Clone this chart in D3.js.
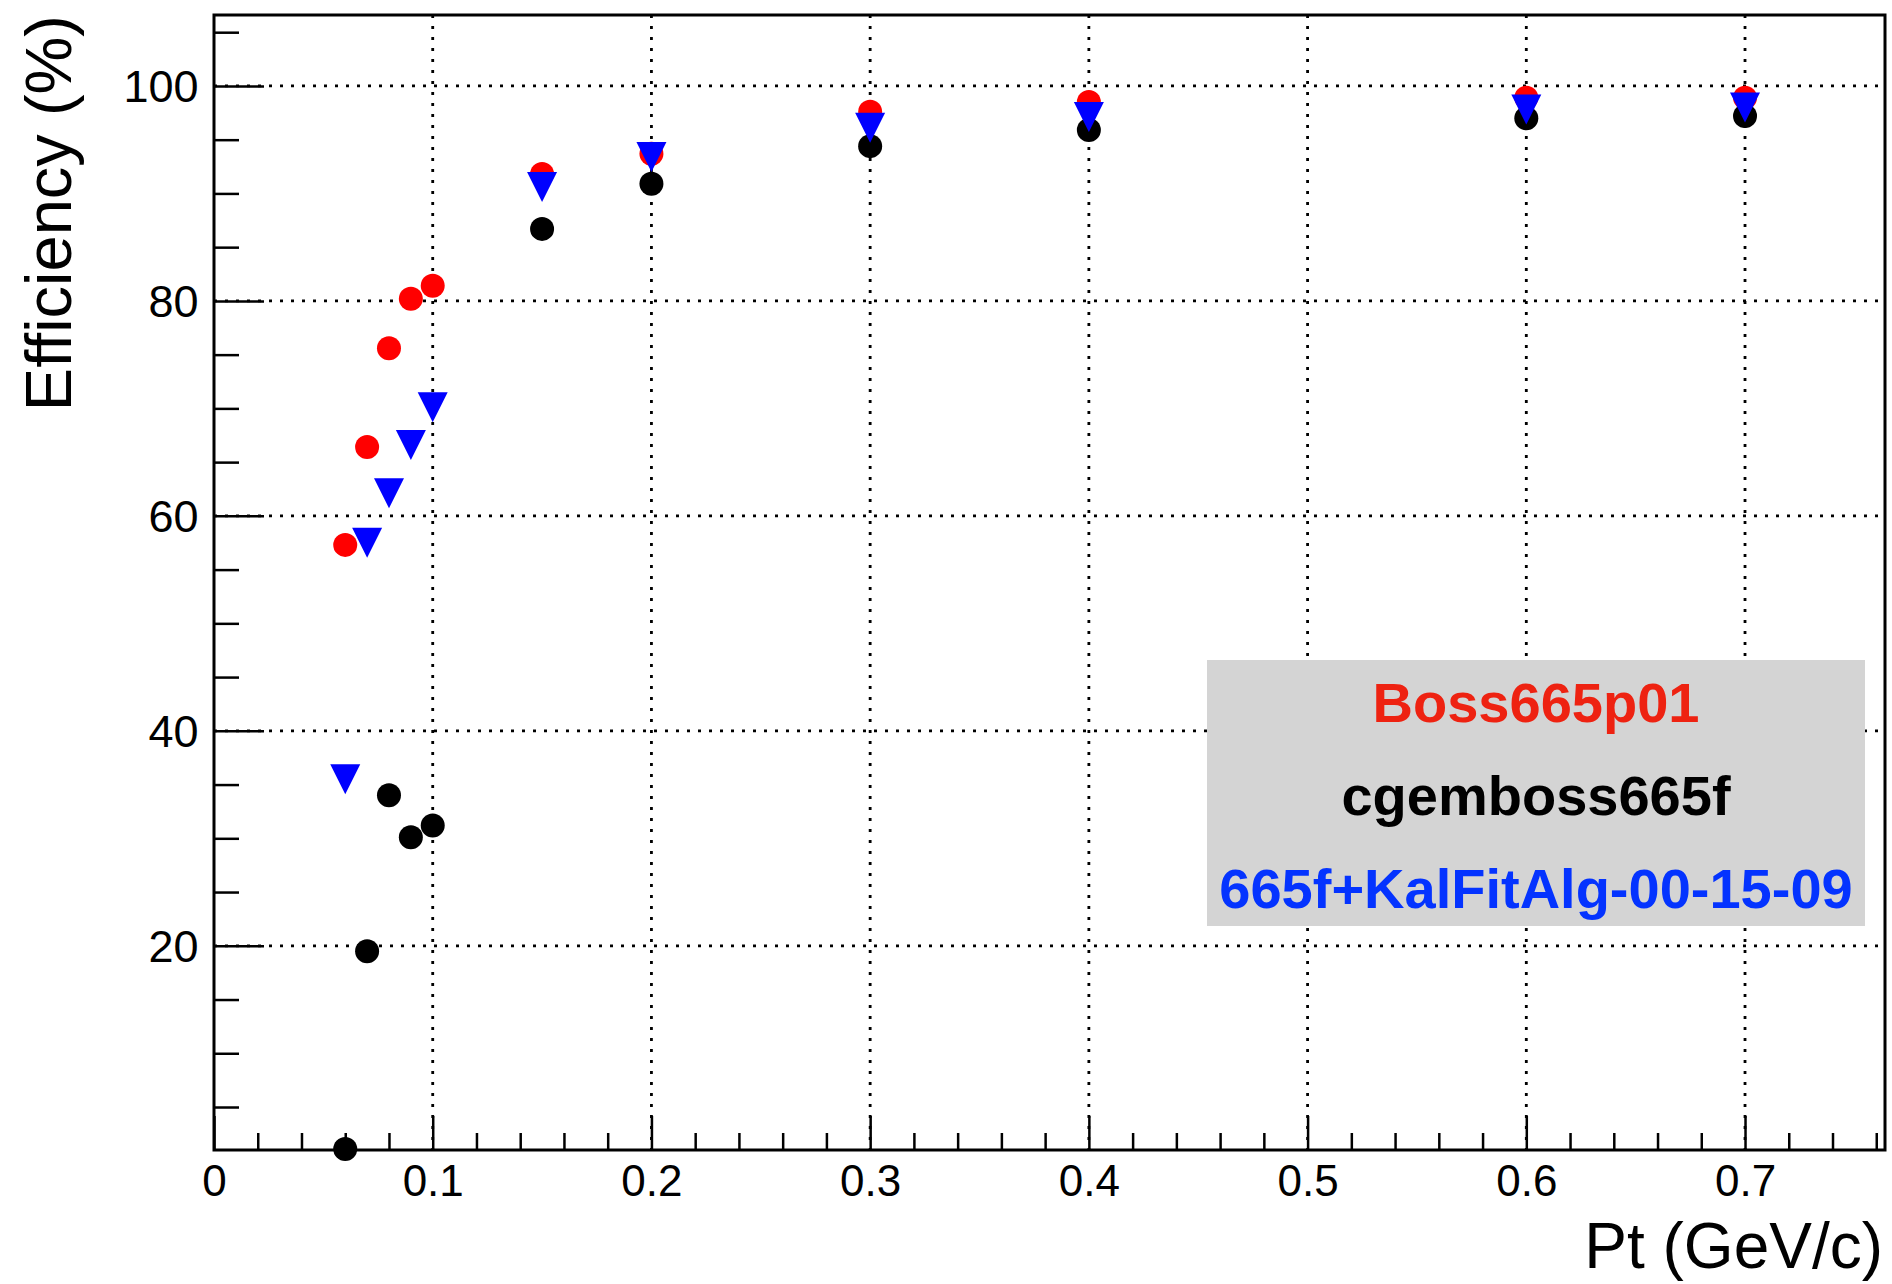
<!DOCTYPE html>
<html>
<head>
<meta charset="utf-8">
<script src="https://cdn.jsdelivr.net/npm/d3@7"></script>
<style>
  html, body { margin: 0; padding: 0; background: #ffffff; }
  svg { display: block; }
  text { font-family: "Liberation Sans", Arial, Helvetica, sans-serif; }
</style>
</head>
<body>
<svg id="chart" width="1892" height="1284"></svg>
<script>
// ---------------- data ----------------
const ptValues = [0.06, 0.07, 0.08, 0.09, 0.10, 0.15, 0.20, 0.30, 0.40, 0.60, 0.70];
const effBoss665p01 = [57.3, 66.4, 75.6, 80.2, 81.4, 91.8, 93.7, 97.6, 98.5, 98.9, 98.9];
const effCgemboss665f = [1.1, 19.5, 34.0, 30.1, 31.2, 86.7, 90.9, 94.4, 95.9, 97.0, 97.2];
const effKalFit = [35.5, 57.5, 62.1, 66.6, 70.1, 90.6, 93.4, 96.1, 97.1, 97.8, 98.0];

const seriesNames = ["Boss665p01", "cgemboss665f", "665f+KalFitAlg-00-15-09"];
const xMajorTicks = [0, 0.1, 0.2, 0.3, 0.4, 0.5, 0.6, 0.7];
const xMinorTicks = [0.02, 0.04, 0.06, 0.08, 0.12, 0.14, 0.16, 0.18, 0.22, 0.24, 0.26, 0.28,
                     0.32, 0.34, 0.36, 0.38, 0.42, 0.44, 0.46, 0.48, 0.52, 0.54, 0.56, 0.58,
                     0.62, 0.64, 0.66, 0.68, 0.72, 0.74, 0.76];
const yMajorTicks = [20, 40, 60, 80, 100];
const yMinorTicks = [5, 10, 15, 25, 30, 35, 45, 50, 55, 65, 70, 75, 85, 90, 95, 105];
const xDomain = [0, 0.764];
const yDomain = [1.0, 106.6];
const xTitle = "Pt (GeV/c)";
const yTitle = "Efficiency (%)";

// ---------------- layout ----------------
const L = 214, R = 1885, T = 15, B = 1150;
const svg = d3.select("#chart");
const x = d3.scaleLinear().domain(xDomain).range([L, R]);
const y = d3.scaleLinear().domain(yDomain).range([B, T]);
const FONT = '"Liberation Sans", Arial, Helvetica, sans-serif';

// gridlines
const grid = svg.append("g");
grid.selectAll("line.gx").data(xMajorTicks.filter(v => v > 0)).enter().append("line")
  .attr("x1", d => x(d)).attr("x2", d => x(d)).attr("y1", T).attr("y2", B)
  .attr("stroke", "#000").attr("stroke-width", 2.8).attr("stroke-dasharray", "3 8");
grid.selectAll("line.gy").data(yMajorTicks).enter().append("line")
  .attr("x1", L).attr("x2", R).attr("y1", d => y(d)).attr("y2", d => y(d))
  .attr("stroke", "#000").attr("stroke-width", 2.8).attr("stroke-dasharray", "3 8");

// legend box
const legend = svg.append("g");
legend.append("rect").attr("x", 1207).attr("y", 660).attr("width", 658).attr("height", 266)
  .attr("fill", "#d4d4d4");
const legendColors = ["#ee2211", "#000000", "#0433ff"];
const legendBaselines = [722, 815, 908];
legend.selectAll("text").data(seriesNames).enter().append("text")
  .attr("x", 1536).attr("y", (d, i) => legendBaselines[i])
  .attr("text-anchor", "middle").attr("font-weight", "bold").attr("font-size", 56)
  .attr("fill", (d, i) => legendColors[i]).text(d => d);

// axes
const xAxisMajor = d3.axisBottom(x).tickValues(xMajorTicks).tickSize(-34).tickFormat(d3.format("~g"));
const xAxisMinor = d3.axisBottom(x).tickValues(xMinorTicks).tickSize(-17).tickFormat("");
const yAxisMajor = d3.axisLeft(y).tickValues(yMajorTicks).tickSize(-50).tickFormat(d3.format("d"));
const yAxisMinor = d3.axisLeft(y).tickValues(yMinorTicks).tickSize(-25).tickFormat("");

function styleAxis(g) {
  g.select(".domain").remove();
  g.selectAll(".tick line").attr("stroke", "#000").attr("stroke-width", 2.5);
}
svg.append("g").attr("transform", `translate(0,${B})`).call(xAxisMinor).call(styleAxis);
const gx = svg.append("g").attr("transform", `translate(0,${B})`).call(xAxisMajor).call(styleAxis);
gx.selectAll(".tick text").attr("y", 46).attr("dy", null)
  .attr("font-size", 44).attr("font-family", FONT).attr("fill", "#000");
svg.append("g").attr("transform", `translate(${L},0)`).call(yAxisMinor).call(styleAxis);
const gy = svg.append("g").attr("transform", `translate(${L},0)`).call(yAxisMajor).call(styleAxis);
gy.selectAll(".tick text").attr("x", -15.5).attr("dy", "0.35em")
  .attr("font-size", 45).attr("font-family", FONT).attr("fill", "#000");

// axis titles
svg.append("text").attr("x", 1883).attr("y", 1268).attr("text-anchor", "end")
  .attr("font-size", 64).attr("fill", "#000").text(xTitle);
svg.append("text").attr("transform", "translate(71,15) rotate(-90)").attr("text-anchor", "end")
  .attr("font-size", 65).attr("fill", "#000").text(yTitle);

// data markers
const pts = (vals) => ptValues.map((p, i) => ({ p: p, v: vals[i] }));
const marks = svg.append("g");
marks.selectAll("circle.red").data(pts(effBoss665p01)).enter().append("circle")
  .attr("cx", d => x(d.p)).attr("cy", d => y(d.v)).attr("r", 12).attr("fill", "#ff0000");
marks.selectAll("circle.black").data(pts(effCgemboss665f)).enter().append("circle")
  .attr("cx", d => x(d.p)).attr("cy", d => y(d.v)).attr("r", 12).attr("fill", "#000000");
const s = 15;
marks.selectAll("path.blue").data(pts(effKalFit)).enter().append("path")
  .attr("d", d => {
    const cx = x(d.p), cy = y(d.v);
    return `M${cx - s},${cy - s}L${cx + s},${cy - s}L${cx},${cy + s}Z`;
  })
  .attr("fill", "#0000ff");

// frame & axis lines
svg.append("rect").attr("x", L).attr("y", T).attr("width", R - L).attr("height", B - T)
  .attr("fill", "none").attr("stroke", "#000").attr("stroke-width", 3);
</script>
</body>
</html>
